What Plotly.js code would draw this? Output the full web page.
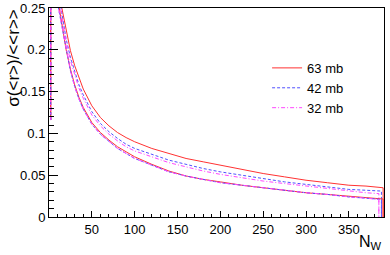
<!DOCTYPE html>
<html><head><meta charset="utf-8">
<script src="https://cdn.plot.ly/plotly-3.0.1.min.js"></script>
<style>body{margin:0;background:#fff}#c{width:390px;height:255px}</style>
</head><body><div id="c"></div>
<script>
// Wounded nucleons N_W
const nwRedUp   = [2, 2, 15, 20, 25, 30, 35, 40, 50, 60, 70, 80, 90, 100, 120, 140, 160, 180, 200, 225, 250, 275, 300, 325, 350, 370, 385, 390, 390];
const redUp     = [0.116, 0.3, 0.25, 0.222, 0.199, 0.181, 0.166, 0.153, 0.133, 0.119, 0.109, 0.101, 0.095, 0.090, 0.082, 0.076, 0.070, 0.066, 0.062, 0.057, 0.052, 0.048, 0.044, 0.041, 0.038, 0.037, 0.036, 0.035, 0];
const nwRedLo   = [2, 2, 12, 15, 20, 25, 30, 35, 40, 50, 60, 70, 80, 90, 100, 120, 140, 160, 180, 200, 225, 250, 275, 300, 325, 350, 370, 385, 390, 390];
const redLo     = [0.116, 0.3, 0.25, 0.230, 0.200, 0.177, 0.158, 0.143, 0.131, 0.113, 0.101, 0.092, 0.084, 0.078, 0.072, 0.063, 0.055, 0.049, 0.045, 0.042, 0.038, 0.035, 0.032, 0.029, 0.027, 0.025, 0.023, 0.0215, 0.0215, 0];

const nwBlueUp  = [2, 2, 14, 20, 25, 30, 35, 40, 50, 60, 70, 80, 90, 100, 120, 140, 160, 180, 200, 225, 250, 275, 300, 325, 350, 370, 385, 388, 388];
const blueUp    = [0.116, 0.3, 0.25, 0.213, 0.191, 0.173, 0.158, 0.146, 0.126, 0.112, 0.102, 0.094, 0.087, 0.082, 0.075, 0.068, 0.063, 0.058, 0.054, 0.050, 0.046, 0.042, 0.039, 0.036, 0.033, 0.032, 0.031, 0.031, 0];
const nwBlueLo  = [2, 2, 11, 15, 20, 25, 30, 35, 40, 50, 60, 70, 80, 90, 100, 120, 140, 160, 180, 200, 225, 250, 275, 300, 325, 350, 370, 385, 388, 388];
const blueLo    = [0.116, 0.3, 0.25, 0.228, 0.198, 0.175, 0.156, 0.141, 0.129, 0.111, 0.099, 0.090, 0.082, 0.076, 0.070, 0.062, 0.054, 0.049, 0.045, 0.041, 0.038, 0.035, 0.032, 0.029, 0.027, 0.024, 0.0225, 0.021, 0.021, 0];

const nwPinkUp  = [2, 2, 13.5, 20, 25, 30, 35, 40, 50, 60, 70, 80, 90, 100, 120, 140, 160, 180, 200, 225, 250, 275, 300, 325, 350, 370, 385, 385];
const pinkUp    = [0.116, 0.3, 0.25, 0.209, 0.187, 0.169, 0.154, 0.142, 0.122, 0.109, 0.099, 0.091, 0.084, 0.079, 0.072, 0.065, 0.060, 0.055, 0.051, 0.047, 0.043, 0.040, 0.037, 0.034, 0.031, 0.029, 0.028, 0];
const nwPinkLo  = [2, 2, 11, 15, 20, 25, 30, 35, 40, 50, 60, 70, 80, 90, 100, 120, 140, 160, 180, 200, 225, 250, 275, 300, 325, 350, 370, 385, 385];
const pinkLo    = [0.116, 0.3, 0.25, 0.228, 0.198, 0.175, 0.156, 0.141, 0.129, 0.111, 0.099, 0.090, 0.082, 0.076, 0.070, 0.062, 0.054, 0.049, 0.045, 0.041, 0.038, 0.035, 0.032, 0.029, 0.027, 0.024, 0.0225, 0.021, 0];

const seriesNames = ['63 mb', '42 mb', '32 mb'];
const xTicks = [50, 100, 150, 200, 250, 300, 350];
const yTicks = [0, 0.05, 0.1, 0.15, 0.2, 0.25];
const yTickText = ['0', '0.05', '0.1', '0.15', '0.2', '0.25'];

const RED = 'rgb(255,50,50)', BLUE = 'rgb(80,80,255)', PINK = 'rgb(255,70,255)';
function tr(x, y, color, dash, name, show) {
  return {x: x, y: y, type: 'scatter', mode: 'lines', name: name, showlegend: show,
          line: {color: color, width: 1, dash: dash}, hoverinfo: 'skip'};
}
const data = [
  tr(nwRedUp, redUp, RED, 'solid', seriesNames[0], true),
  tr(nwBlueUp, blueUp, BLUE, '3px,2px', seriesNames[1], true),
  tr(nwPinkUp, pinkUp, PINK, '4px,2px,1px,2px', seriesNames[2], true),
  tr(nwRedLo, redLo, RED, 'solid', seriesNames[0], false),
  tr(nwBlueLo, blueLo, BLUE, '3px,2px', seriesNames[1], false),
  tr(nwPinkLo, pinkLo, PINK, '4px,2px,1px,2px', seriesNames[2], false)
];
const F = 'Liberation Sans, Arial, Helvetica, sans-serif';
const layout = {
  width: 390, height: 255,
  margin: {l: 49, r: 6, t: 8, b: 38},
  paper_bgcolor: '#fff', plot_bgcolor: '#fff',
  font: {family: F, size: 13, color: '#000'},
  showlegend: true,
  legend: {x: 0.651, y: 0.785, xanchor: 'left', yanchor: 'top', bgcolor: 'rgba(0,0,0,0)',
           borderwidth: 0, font: {family: F, size: 13, color: '#000'}, tracegroupgap: 0},
  xaxis: {range: [0, 391], tickmode: 'array', tickvals: xTicks, ticktext: xTicks.map(String),
          ticks: 'inside', ticklen: 6, tickcolor: '#000', showgrid: false, zeroline: false,
          showline: true, linecolor: '#000', linewidth: 1, mirror: true,
          minor: {dtick: 10, tick0: 0, ticks: 'inside', ticklen: 3, tickcolor: '#000', showgrid: false},
          tickfont: {family: F, size: 13}},
  yaxis: {range: [0, 0.25], tickmode: 'array', tickvals: yTicks, ticktext: yTickText,
          ticks: 'inside', ticklen: 9, tickcolor: '#000', showgrid: false, zeroline: false,
          showline: true, linecolor: '#000', linewidth: 1, mirror: true,
          minor: {dtick: 0.01, tick0: 0, ticks: 'inside', ticklen: 5, tickcolor: '#000', showgrid: false},
          tickfont: {family: F, size: 13}},
  annotations: [
    {text: 'N<sub>W</sub>', xref: 'paper', yref: 'paper', x: 1.0, y: -0.065, xanchor: 'right', yanchor: 'top',
     showarrow: false, font: {family: F, size: 16}},
    {text: 'σ(&lt;r&gt;)/&lt;&lt;r&gt;&gt;', xref: 'paper', yref: 'paper', x: -0.107, y: 1.0, xanchor: 'center', yanchor: 'top',
     textangle: -90, showarrow: false, font: {family: F, size: 17}}
  ]
};
Plotly.newPlot('c', data, layout, {staticPlot: true});
</script></body></html>
